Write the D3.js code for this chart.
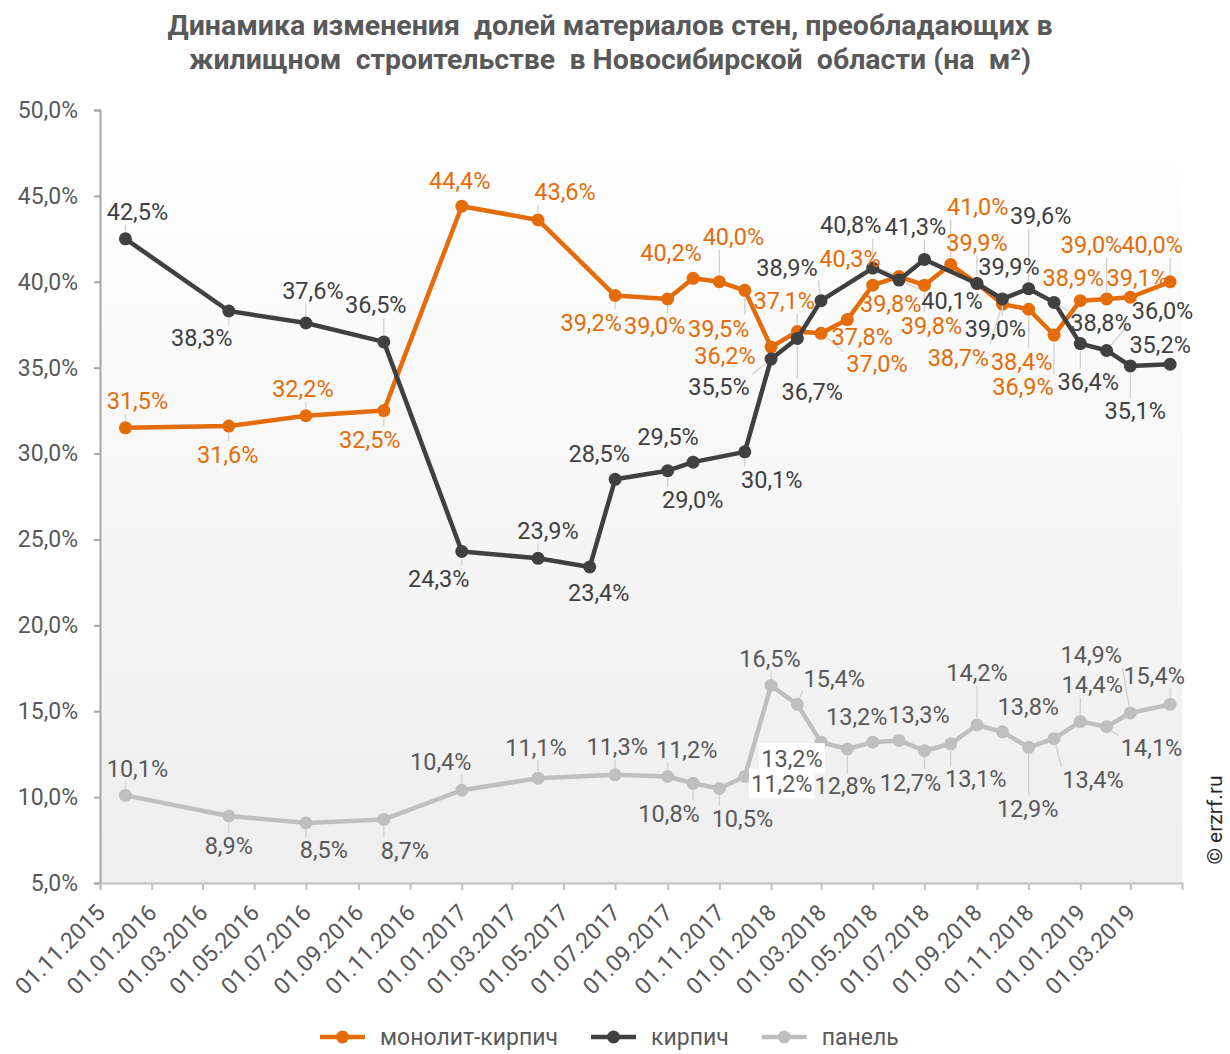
<!DOCTYPE html>
<html><head><meta charset="utf-8">
<script src="https://cdn.jsdelivr.net/npm/d3@7"></script>
<style>
body{margin:0;background:#fff;}
svg{display:block;font-family:Roboto,"Noto Sans",sans-serif;}
</style>
</head><body>
<svg id="chart" width="1230" height="1054"></svg>
<script>
// ---------------- DATA ----------------
const titleLines = [
  "Динамика изменения  долей материалов стен, преобладающих в",
  "жилищном  строительстве  в Новосибирской  области (на  м²)"
];
const seriesNames = ["монолит-кирпич", "кирпич", "панель"];

const monolithDates = ["2015-12-01","2016-04-01","2016-07-01","2016-10-01","2017-01-01","2017-04-01","2017-07-01","2017-09-01","2017-10-01","2017-11-01","2017-12-01","2018-01-01","2018-02-01","2018-03-01","2018-04-01","2018-05-01","2018-06-01","2018-07-01","2018-08-01","2018-09-01","2018-10-01","2018-11-01","2018-12-01","2019-01-01","2019-02-01","2019-03-01","2019-04-17"];
const monolithValues = [31.5,31.6,32.2,32.5,44.4,43.6,39.2,39.0,40.2,40.0,39.5,36.2,37.1,37.0,37.8,39.8,40.3,39.8,41.0,39.9,38.7,38.4,36.9,38.9,39.0,39.1,40.0];

const brickDates = ["2015-12-01","2016-04-01","2016-07-01","2016-10-01","2017-01-01","2017-04-01","2017-06-01","2017-07-01","2017-09-01","2017-10-01","2017-12-01","2018-01-01","2018-02-01","2018-03-01","2018-05-01","2018-06-01","2018-07-01","2018-09-01","2018-10-01","2018-11-01","2018-12-01","2019-01-01","2019-02-01","2019-03-01","2019-04-17"];
const brickValues = [42.5,38.3,37.6,36.5,24.3,23.9,23.4,28.5,29.0,29.5,30.1,35.5,36.7,38.9,40.8,40.1,41.3,39.9,39.0,39.6,38.8,36.4,36.0,35.1,35.2];

const panelDates = ["2015-12-01","2016-04-01","2016-07-01","2016-10-01","2017-01-01","2017-04-01","2017-07-01","2017-09-01","2017-10-01","2017-11-01","2017-12-01","2018-01-01","2018-02-01","2018-03-01","2018-04-01","2018-05-01","2018-06-01","2018-07-01","2018-08-01","2018-09-01","2018-10-01","2018-11-01","2018-12-01","2019-01-01","2019-02-01","2019-03-01","2019-04-17"];
const panelValues = [10.1,8.9,8.5,8.7,10.4,11.1,11.3,11.2,10.8,10.5,11.2,16.5,15.4,13.2,12.8,13.2,13.3,12.7,13.1,14.2,13.8,12.9,13.4,14.4,14.1,14.9,15.4];

const yTickValues = [5,10,15,20,25,30,35,40,45,50];
const xDomain = ["2015-11-01","2019-05-01"];
const copyrightText = "© erzrf.ru";

// ---------------- LAYOUT (label offsets from their point, px) ----------------
const monolithLabelOffsets = [[12,-27],[-1,28],[-3,-27],[-14,29],[-2,-26],[27,-28],[-24,27],[-13,27],[-22,-26],[14,-45],[-26,38],[-46,8],[-13,-31],[56,30],[15,17],[18,18],[-49,-18],[7,40],[27,-58],[0,-41],[-44,53],[-7,52],[-31,52],[-7,-23],[-15,-54],[7,-20],[-18,-37]];
const brickLabelOffsets = [[12,-27],[-27,27],[7,-32],[-8,-37],[-23,27],[10,-28],[9,26],[-16,-26],[25,29],[-25,-26],[27,28],[-52,27],[15,53],[-34,-33],[-22,-43],[53,20],[-9,-33],[32,-17],[-7,30],[12,-73],[47,20],[8,38],[56,-40],[5,45],[-10,-20]];
const panelLabelOffsets = [[12,-27],[0,30],[18,27],[21,31],[-21,-29],[-2,-31],[2,-28],[19,-27],[-24,30],[23,30],[37,7],[-1,-27],[37,-26],[-29,16],[-2,37],[-16,-26],[20,-26],[-14,32],[25,35],[0,-52],[26,-25],[-1,61],[39,41],[12,-37],[45,21],[-39,-58],[-16,-29]];
const panelLabelBg = [10,13];

// ---------------- CHART ----------------
const plot = {left:100, right:1182, top:110, bottom:883};
const svg = d3.select("#chart");
const parse = d3.timeParse("%Y-%m-%d");

const x = d3.scaleTime().domain(xDomain.map(parse)).range([plot.left, plot.right]);
const y = d3.scaleLinear().domain([5,50]).range([plot.bottom, plot.top]);

const defs = svg.append("defs");
const grad = defs.append("linearGradient").attr("id","bg").attr("x1",0).attr("y1",0).attr("x2",0).attr("y2",1);
grad.append("stop").attr("offset","0%").attr("stop-color","#ffffff");
grad.append("stop").attr("offset","100%").attr("stop-color","#eeeeee");

svg.append("rect").attr("x",plot.left).attr("y",plot.top)
  .attr("width",plot.right-plot.left).attr("height",plot.bottom-plot.top)
  .attr("fill","url(#bg)");

// Title
svg.append("g").selectAll("text").data(titleLines).join("text")
  .attr("x", 610).attr("y",(d,i)=>35+i*34)
  .attr("text-anchor","middle")
  .attr("font-size",28.5).attr("font-weight","bold").attr("fill","#595959")
  .style("white-space","pre").attr("xml:space","preserve")
  .text(d=>d);

const fmt = v => d3.format(".1f")(v).replace(".", ",") + "%";

// Y axis
const yAxis = d3.axisLeft(y).tickValues(yTickValues).tickSize(6).tickPadding(16).tickFormat(fmt);
const gy = svg.append("g").attr("transform",`translate(${plot.left},0)`).call(yAxis);
gy.select(".domain").attr("stroke","#a6a6a6").attr("stroke-width",2);
gy.selectAll(".tick line").attr("stroke","#a6a6a6").attr("stroke-width",2);
gy.selectAll(".tick text").attr("font-size",23).attr("fill","#595959").attr("font-family","Roboto");

// X axis
const xAxis = d3.axisBottom(x).ticks(d3.timeMonth.every(2)).tickSize(7).tickFormat(d3.timeFormat("%d.%m.%Y"));
const gx = svg.append("g").attr("transform",`translate(0,${plot.bottom})`).call(xAxis);
gx.select(".domain").attr("stroke","#c0c0c0").attr("stroke-width",2);
gx.selectAll(".tick line").attr("stroke","#c0c0c0").attr("stroke-width",2);
gx.selectAll(".tick").filter(d => d > parse("2019-03-02")).remove();
gx.selectAll(".tick text").attr("font-size",23).attr("fill","#595959").attr("font-family","Roboto")
  .attr("text-anchor","end").attr("dy",0).attr("y",0)
  .attr("transform","translate(6,31) rotate(-45)");

// Series
const series = [
  {name:seriesNames[0], dates:monolithDates, values:monolithValues, color:"#E46C0A", labelColor:"#E46C0A", offsets:monolithLabelOffsets, bg:[]},
  {name:seriesNames[1], dates:brickDates, values:brickValues, color:"#404040", labelColor:"#404040", offsets:brickLabelOffsets, bg:[]},
  {name:seriesNames[2], dates:panelDates, values:panelValues, color:"#BFBFBF", labelColor:"#595959", offsets:panelLabelOffsets, bg:panelLabelBg}
];
series.forEach(s => { s.points = s.dates.map((d,i)=>({date:parse(d), value:s.values[i], off:s.offsets[i], bg:s.bg.includes(i)})); });

const line = d3.line().x(d=>x(d.date)).y(d=>y(d.value));
const gLines = svg.append("g");
series.forEach(s => {
  gLines.append("path").datum(s.points).attr("d",line)
    .attr("fill","none").attr("stroke",s.color).attr("stroke-width",4.5).attr("stroke-linejoin","round");
  gLines.append("g").selectAll("circle").data(s.points).join("circle")
    .attr("cx",d=>x(d.date)).attr("cy",d=>y(d.value)).attr("r",6.5).attr("fill",s.color);
});

// Labels with leader lines
const gLeaders = svg.append("g");
const gLabels = svg.append("g");
series.forEach(s => {
  s.points.forEach(p => {
    const px = x(p.date), py = y(p.value);
    const cx = px + p.off[0], cy = py + p.off[1];
    const g = gLabels.append("g");
    const bgRect = g.append("rect");
    const t = g.append("text").attr("x",cx).attr("y",cy).attr("dy","0.36em")
      .attr("text-anchor","middle").attr("font-size",23.5).attr("fill",s.labelColor)
      .text(fmt(p.value));
    const bb = t.node().getBBox();
    if (p.bg) {
      bgRect.attr("x",bb.x-2).attr("y",cy-15).attr("width",bb.width+4).attr("height",30).attr("fill","#ffffff");
    } else bgRect.remove();
    const top = cy-10, bot = cy+10, left = bb.x, right = bb.x+bb.width;
    const nx = Math.max(left, Math.min(px, right));
    const ny = Math.max(top, Math.min(py, bot));
    const dist = Math.hypot(nx-px, ny-py);
    if (dist > 16) {
      const ux = (nx-px)/dist, uy = (ny-py)/dist;
      gLeaders.append("line").attr("x1",px+ux*7).attr("y1",py+uy*7)
        .attr("x2",nx-ux*3).attr("y2",ny-uy*3)
        .attr("stroke","#d0d0d0").attr("stroke-width",1.3);
    }
  });
});

// Legend
const legend = svg.append("g");
const legendY = 1037;
const items = [];
series.forEach(s => {
  const g = legend.append("g");
  g.append("line").attr("x1",0).attr("x2",45).attr("y1",0).attr("y2",0).attr("stroke",s.color).attr("stroke-width",4.5);
  g.append("circle").attr("cx",22.5).attr("cy",0).attr("r",6.5).attr("fill",s.color);
  const t = g.append("text").attr("x",60).attr("y",0).attr("dy","0.36em").attr("font-size",23).attr("fill","#595959").text(s.name);
  const w = 60 + t.node().getComputedTextLength();
  items.push({g,w});
});
const gap = 33;
let lx = 320;
items.forEach(it => { it.g.attr("transform",`translate(${lx},${legendY})`); lx += it.w + gap; });

// Copyright
svg.append("text").attr("transform","translate(1222,820) rotate(-90)")
  .attr("text-anchor","middle").attr("font-size",21).attr("fill","#262626").text(copyrightText);
</script>
</body></html>
